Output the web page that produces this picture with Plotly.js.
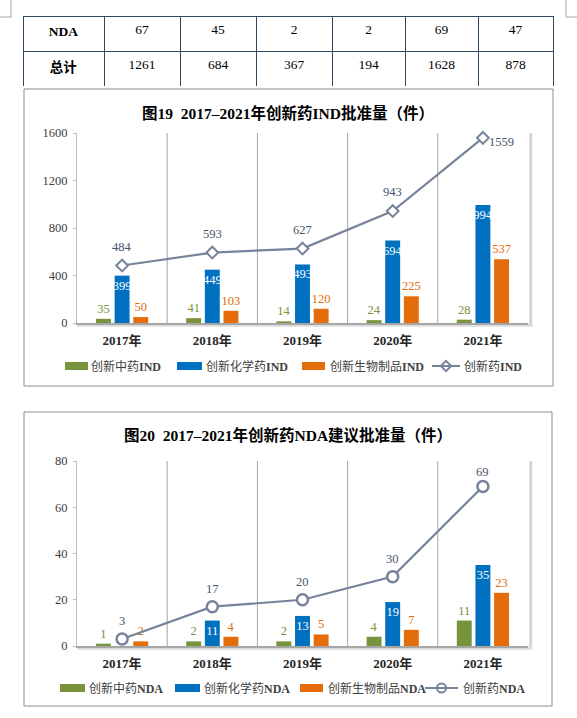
<!DOCTYPE html>
<html><head><meta charset="utf-8">
<script src="https://cdn.plot.ly/plotly-3.0.1.min.js"></script>
<style>html,body{margin:0;padding:0;background:#fff;}#chart{width:577px;height:718px;}</style>
</head><body><div id="chart"></div>
<script>
// ---- data ----
const years = ['2017年','2018年','2019年','2020年','2021年'];
const indTCM = [35,41,14,24,28];
const indChem = [399,449,493,694,994];
const indBio = [50,103,120,225,537];
const indTotal = [484,593,627,943,1559];
const ndaTCM = [1,2,2,4,11];
const ndaChem = [null,11,13,19,35];
const ndaBio = [2,4,5,7,23];
const ndaTotal = [3,17,20,30,69];
const indNames = ['创新中药IND','创新化学药IND','创新生物制品IND','创新药IND'];
const ndaNames = ['创新中药NDA','创新化学药NDA','创新生物制品NDA','创新药NDA'];
const tableRowLabels = ['NDA','总计'];
const tableNDA = [67,45,2,2,69,47];
const tableTotal = [1261,684,367,194,1628,878];
const title1 = '图19  2017–2021年创新药IND批准量（件）';
const title2 = '图20  2017–2021年创新药NDA建议批准量（件）';
const indTicks = [0,400,800,1200,1600];
const ndaTicks = [0,20,40,60,80];

// ---- style ----
const W = 577, H = 718;
const FONT = 'Liberation Serif, Noto Sans CJK SC, serif';
const GREEN = '#77933C', BLUE = '#0070C0', ORANGE = '#E46C0A';
const LINE = '#76839A', LABEL = '#44546A';
const px = v => v / W, py = v => 1 - v / H;

function barTrace(x, y, color, tcolor, pos, xa, ya, name) {
  return {
    type: 'bar', x: x, y: y, name: name, xaxis: xa, yaxis: ya,
    marker: {color: color},
    text: y.map(v => v == null ? '' : String(v)),
    textposition: pos, insidetextanchor: 'end', textangle: 0,
    constraintext: 'none', cliponaxis: false,
    textfont: {family: FONT, size: 12.5, color: tcolor},
    insidetextfont: {family: FONT, size: 12.5, color: tcolor},
    outsidetextfont: {family: FONT, size: 12.5, color: tcolor},
    showlegend: false, hoverinfo: 'skip'
  };
}
function lineTrace(x, y, symbol, size, lw, xa, ya, name) {
  return {
    type: 'scatter', mode: 'lines+markers', x: x, y: y, name: name, xaxis: xa, yaxis: ya,
    line: {color: LINE, width: 2.2},
    marker: {symbol: symbol, size: size, color: '#fff', line: {color: LINE, width: lw}},
    cliponaxis: false, showlegend: false, hoverinfo: 'skip'
  };
}

const traces = [
  {
    type: 'table',
    domain: {x: [px(23), px(553)], y: [py(87), py(16)]},
    columnwidth: [81,76,76,76,73,73,75],
    header: {
      values: ['<b>' + tableRowLabels[0] + '</b>'].concat(tableNDA.map(String)),
      height: 35, align: 'center', fill: {color: '#fff'},
      line: {color: '#2E4A66', width: 1},
      font: {family: FONT, size: 13.5, color: '#000'}
    },
    cells: {
      values: [['<b>' + tableRowLabels[1] + '</b>']].concat(tableTotal.map(v => [String(v)])),
      height: 35, align: 'center', fill: {color: '#fff'},
      line: {color: '#2E4A66', width: 1},
      font: {family: FONT, size: 13.5, color: '#000'}
    }
  },
  barTrace(years, indTCM, GREEN, GREEN, 'outside', 'x', 'y', indNames[0]),
  barTrace(years, indChem, BLUE, '#fff', 'inside', 'x', 'y', indNames[1]),
  barTrace(years, indBio, ORANGE, ORANGE, 'outside', 'x', 'y', indNames[2]),
  lineTrace(years, indTotal, 'diamond', 9, 2, 'x', 'y', indNames[3]),
  barTrace(years, ndaTCM, GREEN, GREEN, 'outside', 'x2', 'y2', ndaNames[0]),
  barTrace(years, ndaChem, BLUE, '#fff', 'inside', 'x2', 'y2', ndaNames[1]),
  barTrace(years, ndaBio, ORANGE, ORANGE, 'outside', 'x2', 'y2', ndaNames[2]),
  lineTrace(years, ndaTotal, 'circle', 11, 2.5, 'x2', 'y2', ndaNames[3])
];

const xBase = {
  type: 'category', showgrid: false, zeroline: false,
  showline: true, linecolor: '#A6A6A6', linewidth: 2,
  ticks: '', ticklabelstandoff: 4,
  tickfont: {family: FONT, size: 13, color: '#262626', weight: 'bold'},
  fixedrange: true
};
const yBase = {
  showgrid: false, zeroline: false, showline: true, linecolor: '#BFBFBF', linewidth: 1,
  ticks: 'outside', ticklen: 3, tickcolor: '#BFBFBF', ticklabelstandoff: 3,
  tickfont: {family: FONT, size: 12.5, color: '#404040'}, fixedrange: true
};

const layout = {
  width: W, height: H, margin: {l: 0, r: 0, t: 0, b: 0},
  paper_bgcolor: '#fff', plot_bgcolor: 'rgba(0,0,0,0)',
  showlegend: false, barmode: 'group', bargap: 0.38, bargroupgap: 0.2,
  font: {family: FONT},
  xaxis: Object.assign({}, xBase, {domain: [px(77), px(528)], anchor: 'y',
    tickvals: years, ticktext: years.map(t => '<b>' + t + '</b>')}),
  yaxis: Object.assign({}, yBase, {domain: [py(323), py(133)], anchor: 'x',
    range: [0, 1600], tickvals: indTicks}),
  xaxis2: Object.assign({}, xBase, {domain: [px(77), px(528)], anchor: 'y2',
    tickvals: years, ticktext: years.map(t => '<b>' + t + '</b>')}),
  yaxis2: Object.assign({}, yBase, {domain: [py(646), py(461)], anchor: 'x2',
    range: [0, 80], tickvals: ndaTicks}),
  shapes: [], annotations: []
};

// frames & page corner marks
const S = layout.shapes, A = layout.annotations;
S.push({type: 'rect', xref: 'paper', yref: 'paper', x0: px(24), x1: px(553), y0: py(386), y1: py(89), line: {color: '#8C8C8C', width: 1}});
S.push({type: 'rect', xref: 'paper', yref: 'paper', x0: px(24), x1: px(552), y0: py(706), y1: py(412), line: {color: '#8C8C8C', width: 1}});
[[11,0,11,17],[0,17,11,17],[566,0,566,17],[566,17,577,17]].forEach(c =>
  S.push({type: 'line', xref: 'paper', yref: 'paper', x0: px(c[0]), y0: py(c[1]), x1: px(c[2]), y1: py(c[3]), line: {color: '#A6A6A6', width: 1}}));

// separators and plot-area shadow for each chart
[['x','y'],['x2','y2']].forEach(ax => {
  for (let i = 0; i < years.length - 1; i++) {
    S.push({type: 'line', xref: ax[0], yref: ax[1] + ' domain', x0: i + 0.5, x1: i + 0.5, y0: 0, y1: 1, line: {color: '#A6A6A6', width: 1}, layer: 'below'});
  }
  S.push({type: 'line', xref: ax[0] + ' domain', yref: ax[1] + ' domain', x0: 1.006, x1: 1.006, y0: -0.01, y1: 1, line: {color: '#D4D4D4', width: 3}, layer: 'below'});
  S.push({type: 'line', xref: ax[0] + ' domain', yref: ax[1] + ' domain', x0: 0, x1: 1.01, y0: -0.012, y1: -0.012, line: {color: '#DCDCDC', width: 3}, layer: 'below'});
});

// titles
A.push({xref: 'paper', yref: 'paper', x: px(288), y: py(113), xanchor: 'center', yanchor: 'middle', showarrow: false,
  text: '<b>' + title1 + '</b>', font: {family: FONT, size: 15.5, color: '#000'}});
A.push({xref: 'paper', yref: 'paper', x: px(288), y: py(435), xanchor: 'center', yanchor: 'middle', showarrow: false,
  text: '<b>' + title2 + '</b>', font: {family: FONT, size: 15.5, color: '#000'}});

// line value labels
indTotal.forEach((v, i) => {
  const last = i === indTotal.length - 1;
  A.push({xref: 'x', yref: 'y', x: years[i], y: v, text: String(v), showarrow: false,
    xanchor: last ? 'left' : 'center', yanchor: 'middle', xshift: last ? 4 : 0, yshift: last ? -4 : 19,
    font: {family: FONT, size: 12.5, color: LABEL}});
});
ndaTotal.forEach((v, i) => {
  const last = i === ndaTotal.length - 1;
  A.push({xref: 'x2', yref: 'y2', x: years[i], y: v, text: String(v), showarrow: false,
    xanchor: 'center', yanchor: 'middle', yshift: last ? 14 : 18,
    font: {family: FONT, size: 12.5, color: LABEL}});
});

// legends (manual)
function legend(names, yy, sw, txt, lineX) {
  const cols = [GREEN, BLUE, ORANGE];
  for (let i = 0; i < 3; i++) {
    S.push({type: 'rect', xref: 'paper', yref: 'paper', x0: px(sw[i][0]), x1: px(sw[i][1]), y0: py(yy + 4), y1: py(yy - 4),
      fillcolor: cols[i], line: {width: 0}});
  }
  S.push({type: 'line', xref: 'paper', yref: 'paper', x0: px(lineX[0]), x1: px(lineX[1]), y0: py(yy), y1: py(yy), line: {color: LINE, width: 2}});
  for (let i = 0; i < 4; i++) {
    const nm = names[i];
    const m = nm.match(/^(.*?)([A-Z]+)$/);
    A.push({xref: 'paper', yref: 'paper', x: px(txt[i]), y: py(yy), xanchor: 'left', yanchor: 'middle', showarrow: false,
      text: m[1] + '<b>' + m[2] + '</b>', font: {family: FONT, size: 12, color: '#404040'}});
  }
}
legend(indNames, 366, [[65,88],[177,202],[302,325]], [89,204,328,462], [432,460]);
legend(ndaNames, 688, [[60,85],[175,200],[300,323]], [87,202,326,461], [425,458]);

// legend line markers placed on a hidden pixel-space axis
traces.push({type: 'scatter', mode: 'markers', x: [446], y: [366], xaxis: 'x3', yaxis: 'y3',
  marker: {symbol: 'diamond', size: 8, color: '#fff', line: {color: LINE, width: 2}}, showlegend: false, hoverinfo: 'skip', cliponaxis: false});
traces.push({type: 'scatter', mode: 'markers', x: [441.5], y: [688], xaxis: 'x3', yaxis: 'y3',
  marker: {symbol: 'circle', size: 9, color: '#fff', line: {color: LINE, width: 2}}, showlegend: false, hoverinfo: 'skip', cliponaxis: false});
layout.xaxis3 = {domain: [0, 1], range: [0, W], visible: false, anchor: 'y3', fixedrange: true};
layout.yaxis3 = {domain: [0, 1], range: [H, 0], visible: false, anchor: 'x3', fixedrange: true};

Plotly.newPlot('chart', traces, layout, {staticPlot: true, displayModeBar: false});
</script>
</body></html>
